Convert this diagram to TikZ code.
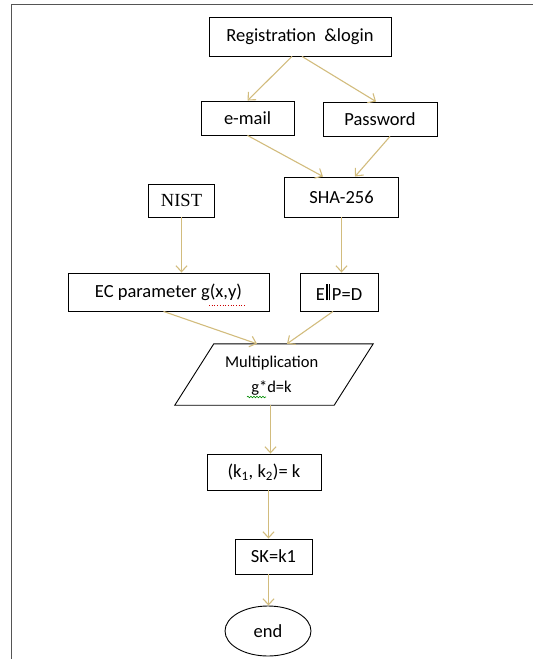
\documentclass[tikz,border=0pt]{standalone}
\usepackage{fontspec}
\setmainfont{Carlito}
\newfontfamily\timesfont{Liberation Serif}
\usetikzlibrary{arrows.meta,calc,decorations.pathmorphing,shapes.geometric}

\definecolor{flowline}{RGB}{210,188,125}
\definecolor{framegray}{RGB}{85,85,85}

\tikzset{
  box/.style={draw=black, line width=0.9pt, inner sep=0pt, font=\fontsize{18.5}{21}\selectfont},
  flowtext/.style={inner sep=0pt, anchor=base, font=\fontsize{16.5}{20}\selectfont},
  flow/.style={draw=flowline, line width=1.1pt, -{Straight Barb[length=6pt,width=11pt,line width=1.1pt]}},
}

\begin{document}
\begin{tikzpicture}[x=1pt, y=-1pt]
\useasboundingbox (0,0) rectangle (533,659);
% page frame
\draw[framegray, line width=1.6pt] (11.5,659) -- (11.5,4.5) -- (533,4.5);

% boxes
\node[box, minimum width=182, minimum height=39] (reg) at (300,36.5) {Registration\ \ \&login};
\node[box, minimum width=93, minimum height=34] (mail) at (247.5,118) {e-mail};
\node[box, minimum width=114, minimum height=34] (pass) at (380,119) {Password};
\node[box, minimum width=66, minimum height=33, font=\timesfont\fontsize{18.5}{21}\selectfont] (nist) at (181.5,200.5) {NIST};
\node[box, minimum width=114, minimum height=40] (sha) at (341.5,197) {SHA-256};
\node[box, minimum width=201, minimum height=38] (ec) at (168.5,292) {EC parameter g(x,y)};
\node[box, minimum width=78, minimum height=38] (epd) at (339,292)
  {E\kern1.5pt\rule{1.4pt}{16.5pt}\kern1.3pt\rule{1.4pt}{16.5pt}\kern1.5pt P=D};

% parallelogram: node frames the area, outline drawn from its corners
\node[minimum width=198, minimum height=61, inner sep=0pt] (mul) at (274,374.5) {};
\draw[black, line width=0.9pt]
  ($(mul.north west)+(39,0)$) -- (mul.north east) -- ($(mul.south east)+(-39,0)$) -- (mul.south west) -- cycle;
\node[flowtext] (multitle) at (271.7,367.3) {Multiplication};
\node[flowtext] (mulformula) at (271.5,392.5) {g*d=k};

\node[box, minimum width=114, minimum height=36] (kk) at (264,472) {(k\textsubscript{1}, k\textsubscript{2})= k};
\node[box, minimum width=77, minimum height=35] (sk) at (273.5,556.5) {SK=k1};
\node[box, ellipse, minimum width=86, minimum height=50] (fin) at (268,631) {end};

% proofing marks under the text
\draw[red!80!black, line width=0.7pt, dotted] (209,305.5) -- (245,305.5);
\draw[green!55!black, line width=0.6pt, decorate, decoration={snake, amplitude=0.8pt, segment length=3pt}] (247,397) -- (266,397);

% connectors
\draw[flow] ($(reg.south)+(-8,0)$) -- (mail.north);
\draw[flow] ($(reg.south)+(2,0)$) -- ($(pass.north)+(-4,0)$);
\draw[flow] (mail.south) -- ($(sha.north)+(-18.5,0)$);
\draw[flow] ($(pass.south)+(10,0)$) -- ($(sha.north)+(13.5,0)$);
\draw[flow] (nist.south) -- (nist.south |- ec.north);
\draw[flow] (sha.south) -- (sha.south |- epd.north);
\draw[flow] ($(ec.south)+(-5,0)$) -- ($(mul.north)+(-17,0)$);
\draw[flow] ($(epd.south)+(-6,0)$) -- ($(mul.north)+(13,0)$);
\coordinate (m1) at ($(mul.south)+(-3.5,0)$);
\draw[flow] (m1) -- (m1 |- kk.north);
\coordinate (k1) at ($(kk.south)+(4.5,0)$);
\draw[flow] (k1) -- (k1 |- sk.north);
\coordinate (s1) at ($(sk.south)+(-5,0)$);
\draw[flow] (s1) -- (s1 |- fin.north);
\end{tikzpicture}
\end{document}
